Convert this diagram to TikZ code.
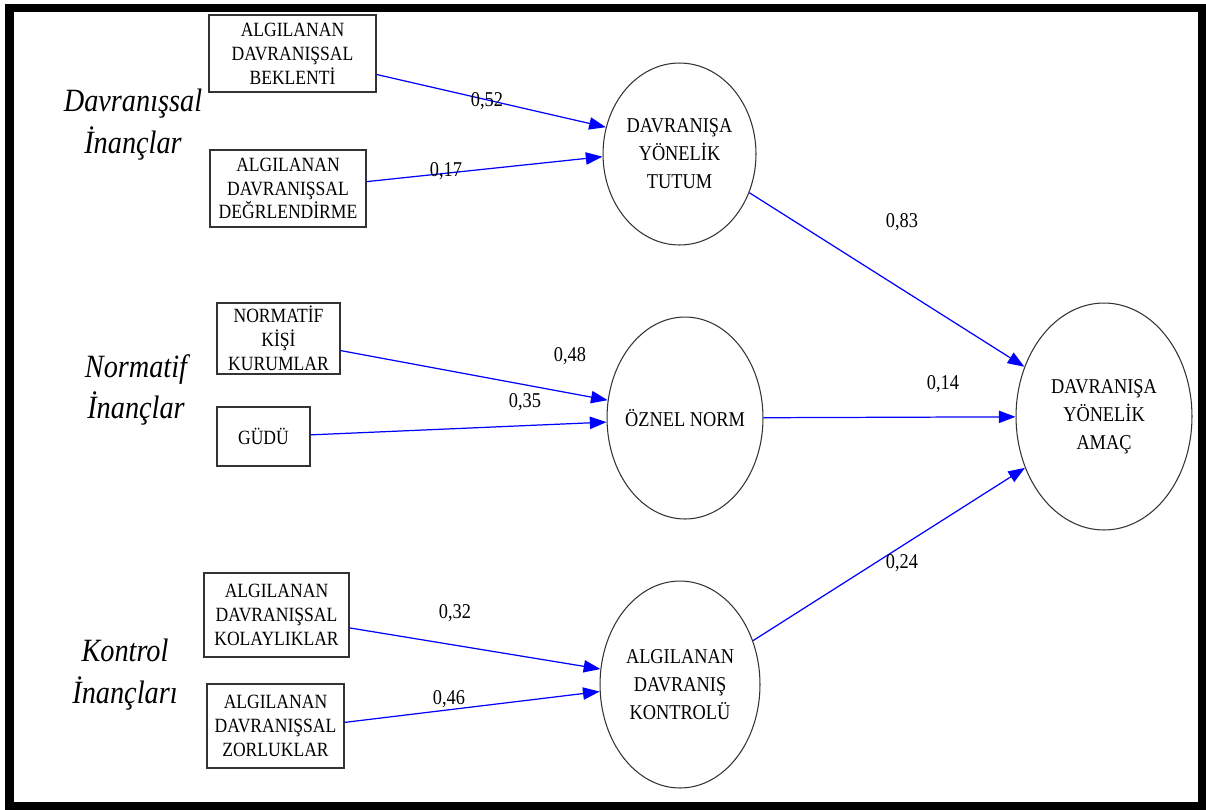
\documentclass[tikz,border=0pt]{standalone}
\usepackage{fontspec}
\setmainfont{Liberation Serif}[FakeStretch=0.87]
\usetikzlibrary{positioning,shapes.geometric,arrows.meta}

\begin{document}
\begin{tikzpicture}[x=0.02cm, y=-0.02cm,
        every node/.style={inner sep=0pt},
        kutu/.style={draw=black!80, line width=0.8pt, rectangle, align=center,
            font=\fontsize{11.5}{13.6}\selectfont},
        gizil/.style={draw=black!80, line width=0.6pt, ellipse, align=center,
            font=\fontsize{12}{16}\selectfont},
        grup/.style={align=center, font=\fontsize{18.5}{23.8}\selectfont\itshape},
        katsayi/.style={font=\fontsize{12}{14}\selectfont},
        yol/.style={draw=blue, line width=0.7pt, -{Triangle[length=9.5pt,width=7pt]}}]

        \useasboundingbox (0,0) rectangle (1206,809);
        \draw[line width=4.6pt] (9.5,8) rectangle (1202.5,806);

        % gruplar
        \node[grup] (g1) at (133,125) {Davranışsal\\İnançlar};
        \node[grup] (g2) at (136,390) {Normatif\\İnançlar};
        \node[grup] (g3) at (125,675) {Kontrol\\İnançları};

        % kutular
        \node[kutu, minimum width=3.34cm, minimum height=1.54cm] (b1) at (292.5,53.5) {ALGILANAN\\DAVRANIŞSAL\\BEKLENTİ};
        \node[kutu, minimum width=3.12cm, minimum height=1.54cm] (b2) at (288,188.5) {ALGILANAN\\DAVRANIŞSAL\\DEĞRLENDİRME};
        \node[kutu, minimum width=2.46cm, minimum height=1.42cm] (b3) at (278.5,338.5) {NORMATİF\\KİŞİ\\KURUMLAR};
        \node[kutu, minimum width=1.86cm, minimum height=1.18cm] (b4) at (263.5,436.5) {GÜDÜ};
        \node[kutu, minimum width=2.9cm, minimum height=1.68cm] (b5) at (276.5,615) {ALGILANAN\\DAVRANIŞSAL\\KOLAYLIKLAR};
        \node[kutu, minimum width=2.74cm, minimum height=1.68cm] (b6) at (275.5,726) {ALGILANAN\\DAVRANIŞSAL\\ZORLUKLAR};

        % elipsler
        \node[gizil, minimum width=3.06cm, minimum height=3.64cm] (tutum) at (679.5,154) {DAVRANIŞA\\YÖNELİK\\TUTUM};
        \node[gizil, inner xsep=-4pt, minimum width=3.12cm, minimum height=4.04cm] (oznel) at (685,418) {ÖZNEL NORM};
        \node[gizil, minimum width=3.2cm, minimum height=4.14cm] (kontrol) at (680,684.5) {ALGILANAN\\DAVRANIŞ\\KONTROLÜ};
        \node[gizil, minimum width=3.52cm, minimum height=4.54cm] (amac) at (1104,416.5) {DAVRANIŞA\\YÖNELİK\\AMAÇ};

        \draw[yol] (b1.-14) -- (tutum.160);
        \draw[yol] (b2.5) -- (tutum.182);
        \draw[yol] (b3.-11) -- (oznel.167);
        \draw[yol] (b4.2) -- (oznel.183);
        \draw[yol] (b5.-10) -- (kontrol.169);
        \draw[yol] (b6.3) -- (kontrol.185);
        \draw[yol] (tutum.-29) -- (amac.148);
        \draw[yol] (oznel) -- (amac);
        \draw[yol] (kontrol.31) -- (amac.213);

        % katsayilar
        \node[katsayi] (k1) at (487,101) {0,52};
        \node[katsayi] (k2) at (446,171) {0,17};
        \node[katsayi] (k3) at (570,356) {0,48};
        \node[katsayi] (k4) at (525,402) {0,35};
        \node[katsayi] (k5) at (455,613) {0,32};
        \node[katsayi] (k6) at (449,699) {0,46};
        \node[katsayi] (k7) at (902,222) {0,83};
        \node[katsayi] (k8) at (943,384) {0,14};
        \node[katsayi] (k9) at (902,563) {0,24};

    \end{tikzpicture}
\end{document}
